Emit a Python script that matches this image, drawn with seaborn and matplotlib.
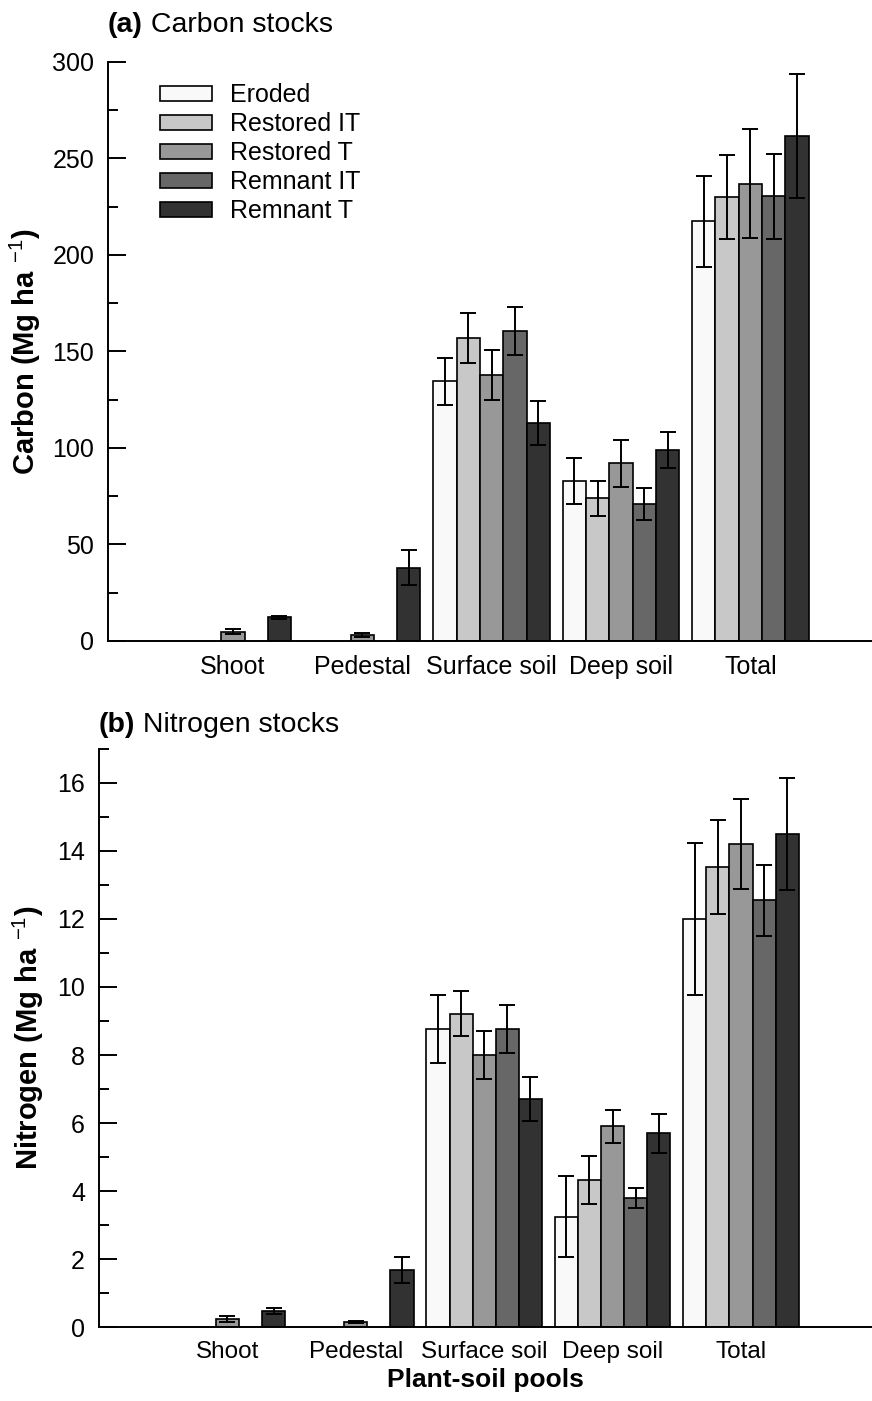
import numpy as np
import pandas as pd
import matplotlib
matplotlib.use("Agg")
import matplotlib.pyplot as plt
from matplotlib.container import BarContainer
from matplotlib.ticker import MultipleLocator
import seaborn as sns

# Data (NaN = no bar shown)
pools = ['Shoot', 'Pedestal', 'Surface soil', 'Deep soil', 'Total']
treatments = ['Eroded', 'Restored IT', 'Restored T', 'Remnant IT', 'Remnant T']
colors = ['#f9f9f9', '#c8c8c8', '#989898', '#676767', '#323232']

# rows = treatments, columns = pools
carbon_mean = [
    [np.nan, np.nan, 134.5, 83.0, 217.5],
    [np.nan, np.nan, 157.0, 74.0, 230.0],
    [4.7, 3.1, 138.0, 92.0, 237.0],
    [np.nan, np.nan, 160.5, 71.0, 230.5],
    [12.3, 38.0, 113.0, 99.0, 261.5],
]
carbon_se = [
    [0, 0, 12.0, 12.0, 23.5],
    [0, 0, 13.0, 9.0, 22.0],
    [1.3, 1.0, 13.0, 12.0, 28.0],
    [0, 0, 12.5, 8.5, 22.0],
    [0.8, 9.0, 11.5, 9.5, 32.0],
]
nitrogen_mean = [
    [np.nan, np.nan, 8.77, 3.25, 12.0],
    [np.nan, np.nan, 9.22, 4.32, 13.53],
    [0.23, 0.16, 8.0, 5.9, 14.2],
    [np.nan, np.nan, 8.77, 3.8, 12.55],
    [0.47, 1.68, 6.7, 5.7, 14.5],
]
nitrogen_se = [
    [0, 0, 1.0, 1.2, 2.23],
    [0, 0, 0.65, 0.7, 1.37],
    [0.08, 0.03, 0.72, 0.48, 1.33],
    [0, 0, 0.7, 0.3, 1.05],
    [0.08, 0.38, 0.65, 0.57, 1.65],
]

rows = []
for i, t in enumerate(treatments):
    for j, p in enumerate(pools):
        rows.append({'pool': p, 'treatment': t,
                     'carbon': carbon_mean[i][j], 'nitrogen': nitrogen_mean[i][j]})
df = pd.DataFrame(rows)

sns.set_style('ticks')
plt.rcParams['font.family'] = ['Liberation Sans', 'DejaVu Sans']
plt.rcParams['mathtext.fontset'] = 'custom'
plt.rcParams['mathtext.rm'] = 'Liberation Sans'
plt.rcParams['mathtext.bf'] = 'Liberation Sans:bold'
for key in ['text.color', 'axes.labelcolor', 'xtick.color', 'ytick.color',
            'axes.edgecolor']:
    plt.rcParams[key] = 'black'

palette = dict(zip(treatments, colors))

fig = plt.figure(figsize=(8.72, 14.01), dpi=100)
ax_a = fig.add_axes([0.1239, 0.5425, 0.8761, 0.4133])
ax_b = fig.add_axes([0.1135, 0.0528, 0.8865, 0.4126])


def draw_panel(ax, col, se, legend):
    sns.barplot(data=df, x='pool', y=col, hue='treatment', order=pools,
                hue_order=treatments, palette=palette, saturation=1,
                width=0.9, errorbar=None, edgecolor='black', linewidth=1.2,
                legend=legend, ax=ax)
    # error bars at each drawn bar
    bar_conts = [c for c in ax.containers if isinstance(c, BarContainer)]
    xs, ys, es = [], [], []
    for k, cont in enumerate(bar_conts):
        for bar in cont:
            if bar is None:
                continue
            h = bar.get_height()
            if np.isnan(h):
                continue
            xc = bar.get_x() + bar.get_width() / 2
            j = int(round(xc))
            xs.append(xc)
            ys.append(h)
            es.append(se[k][j])
    ax.errorbar(xs, ys, yerr=es, fmt='none', ecolor='black',
                elinewidth=1.4, capsize=6, capthick=1.4, zorder=5)
    for s in ['top', 'right']:
        ax.spines[s].set_visible(False)
    for s in ['left', 'bottom']:
        ax.spines[s].set_linewidth(1.4)
    ax.tick_params(axis='y', which='major', direction='in', length=13,
                   width=1.4, labelsize=18, pad=10)
    ax.tick_params(axis='y', which='minor', direction='in', length=7.5,
                   width=1.4)
    ax.tick_params(axis='x', length=0, labelsize=18, pad=10)


draw_panel(ax_a, 'carbon', carbon_se, True)
ax_a.set_ylim(0, 300)
ax_a.set_xlim(-0.965, 4.94)
ax_a.yaxis.set_major_locator(MultipleLocator(50))
ax_a.yaxis.set_minor_locator(MultipleLocator(25))
ax_a.set_xlabel('')
ax_a.set_ylabel(r'Carbon (Mg ha $^{-1}$)', fontsize=21, fontweight='bold')
ax_a.yaxis.set_label_coords(-0.085, 0.5)
sns.move_legend(ax_a, 'upper left', bbox_to_anchor=(0.051, 0.985), frameon=False,
                title=None, fontsize=18, handlelength=2.1, handleheight=0.55,
                handletextpad=0.7, labelspacing=0.2, borderpad=0)

draw_panel(ax_b, 'nitrogen', nitrogen_se, False)
ax_b.set_ylim(0, 17)
ax_b.set_xlim(-1.0, 5.02)
ax_b.yaxis.set_major_locator(MultipleLocator(2))
ax_b.yaxis.set_minor_locator(MultipleLocator(1))
ax_b.tick_params(axis='x', labelsize=17.5)
ax_b.set_xlabel('Plant-soil pools', fontsize=19, fontweight='bold', labelpad=4)
ax_b.set_ylabel(r'Nitrogen (Mg ha $^{-1}$)', fontsize=21, fontweight='bold')
ax_b.yaxis.set_label_coords(-0.068, 0.5)

# panel titles: bold letter + plain text
for ax, letter, name, ty in [(ax_a, '(a)', ' Carbon stocks', 1.052),
                             (ax_b, '(b)', ' Nitrogen stocks', 1.029)]:
    t1 = ax.text(0.0, ty, letter, transform=ax.transAxes, fontsize=20.5,
                 fontweight='bold', ha='left', va='baseline')
    ax.annotate(name, xy=(1, 0), xycoords=t1, fontsize=20.5,
                ha='left', va='bottom')

fig.savefig('out.png', dpi=100)
